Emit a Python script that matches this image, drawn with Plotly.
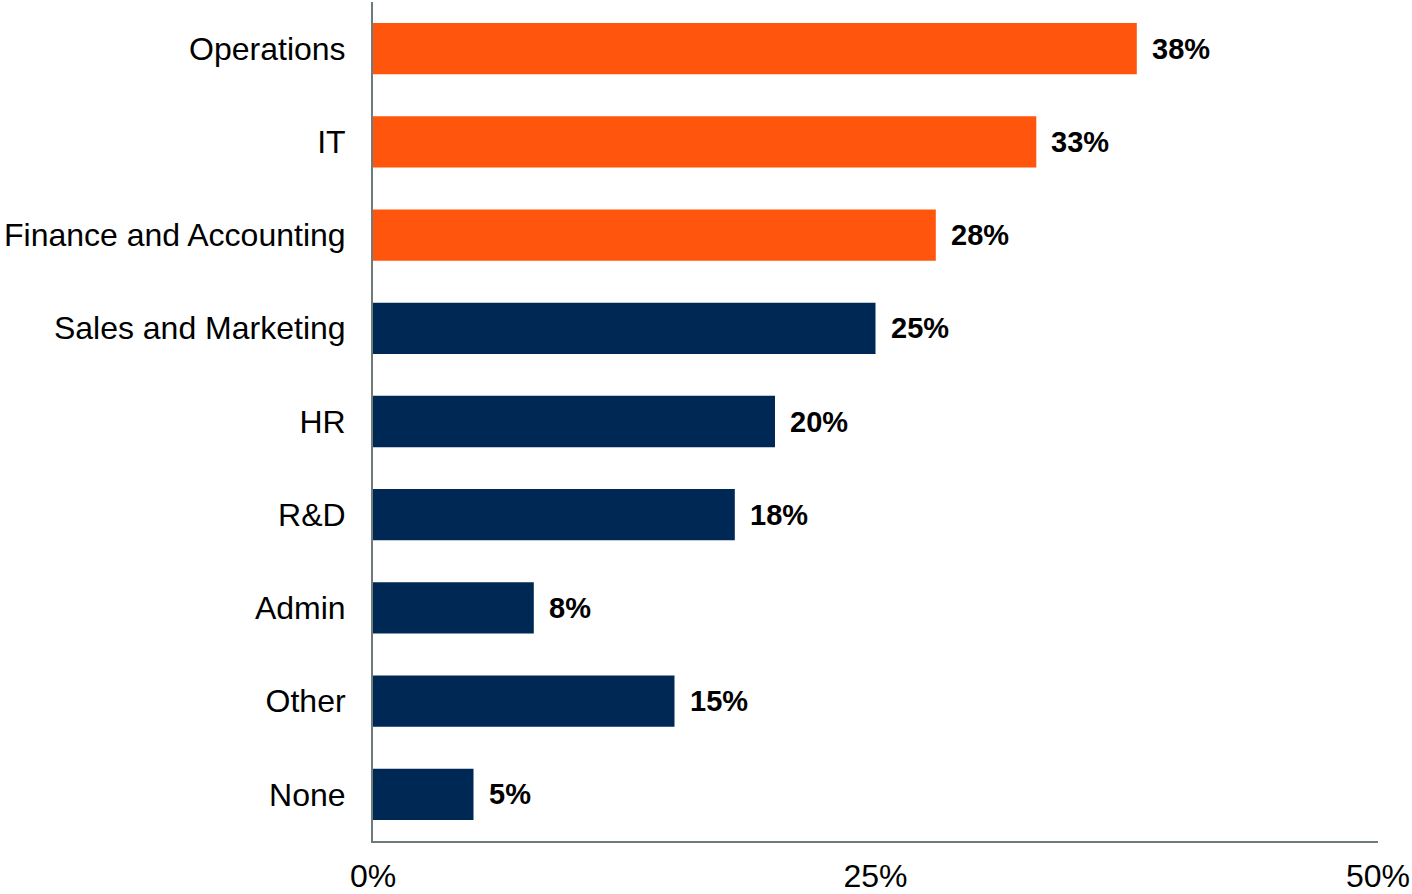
import plotly.graph_objects as go

# Departments, top to bottom
categories = ["Operations", "IT", "Finance and Accounting", "Sales and Marketing",
              "HR", "R&D", "Admin", "Other", "None"]
values = [38, 33, 28, 25, 20, 18, 8, 15, 5]
highlight = [True, True, True, False, False, False, False, False, False]
tick_vals = [0, 25, 50]
tick_text = ["0%", "25%", "50%"]

ORANGE = "#FF550D"
NAVY = "#002855"
AXIS = "#6F7B7B"
FONT = "Liberation Sans, Arial, sans-serif"

colors = [ORANGE if h else NAVY for h in highlight]

fig = go.Figure(go.Bar(
    x=values,
    y=categories,
    orientation="h",
    marker=dict(color=colors, line=dict(width=0)),
    hoverinfo="skip",
))

for cat, v in zip(categories, values):
    fig.add_annotation(
        x=v, y=cat, text=f"<b>{v}%</b>", showarrow=False,
        xanchor="left", yanchor="middle", xshift=13,
        font=dict(family=FONT, size=29, color="#000000"),
    )

fig.update_layout(
    width=1412, height=894,
    margin=dict(l=373, r=34, t=2, b=53),
    paper_bgcolor="white", plot_bgcolor="white",
    bargap=0.45,
    showlegend=False,
    font=dict(family=FONT, size=32, color="#000000"),
    xaxis=dict(
        range=[0, 50], tickvals=tick_vals, ticktext=tick_text,
        showgrid=False, zeroline=False, automargin=False,
        showline=True, linecolor=AXIS, linewidth=2,
        ticks="", ticklabelstandoff=6,
        tickfont=dict(family=FONT, size=32, color="#000000"),
    ),
    yaxis=dict(
        categoryorder="array", categoryarray=categories[::-1],
        showgrid=False, zeroline=False, automargin=False,
        showline=True, linecolor=AXIS, linewidth=2,
        ticks="", ticklabelstandoff=19,
        tickfont=dict(family=FONT, size=32, color="#000000"),
    ),
)

fig.write_html("out.html")
